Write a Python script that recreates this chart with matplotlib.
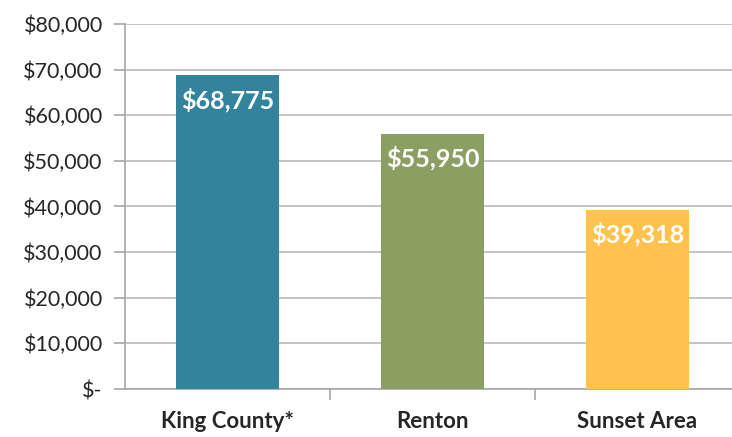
import matplotlib.pyplot as plt
from matplotlib.ticker import FuncFormatter

categories = ['King County*', 'Renton', 'Sunset Area']
values = [68775, 55950, 39318]
colors = ['#31849B', '#8C9F62', '#FFC24C']

plt.rcParams['font.family'] = ['Lato', 'DejaVu Sans']

fig = plt.figure(figsize=(7.32, 4.37), dpi=100)
ax = fig.add_axes([125 / 732, 1 - 389 / 437, 615 / 732, 365 / 437])

x = range(len(categories))
bars = ax.bar(x, values, width=0.5, color=colors, zorder=3)

for b, v in zip(bars, values):
    ax.annotate(f'${v:,}', (b.get_x() + b.get_width() / 2, v),
                xytext=(0, -9), textcoords='offset points',
                ha='center', va='top', color='white',
                fontsize=18, fontweight='bold', zorder=4)

ax.set_xlim(-0.5, len(categories) - 0.5)
ax.set_ylim(0, 80000)
ax.set_yticks(range(0, 80001, 10000))
ax.yaxis.set_major_formatter(FuncFormatter(lambda v, p: '$-' if v == 0 else f'${v:,.0f}'))
ax.set_xticks(list(x))
ax.set_xticklabels(categories, fontsize=16, fontweight='bold', color='#262626')
ax.set_xticks([0.5, 1.5], minor=True)
ax.tick_params(axis='x', which='major', length=0, pad=16)
ax.tick_params(axis='x', which='minor', length=8, color='#A6A6A6', width=1.2)
ax.tick_params(axis='y', length=8, color='#A6A6A6', width=1.2, labelsize=15.5,
               labelcolor='#262626', pad=8)

ax.grid(axis='y', color='#BFBFBF', lw=1.3, zorder=0)
for s in ['top', 'right']:
    ax.spines[s].set_visible(False)
ax.spines['left'].set_color('#A6A6A6')
ax.spines['bottom'].set_color('#A6A6A6')
ax.spines['left'].set_linewidth(1.2)
ax.spines['bottom'].set_linewidth(1.2)

fig.savefig('out.png', dpi=100)
